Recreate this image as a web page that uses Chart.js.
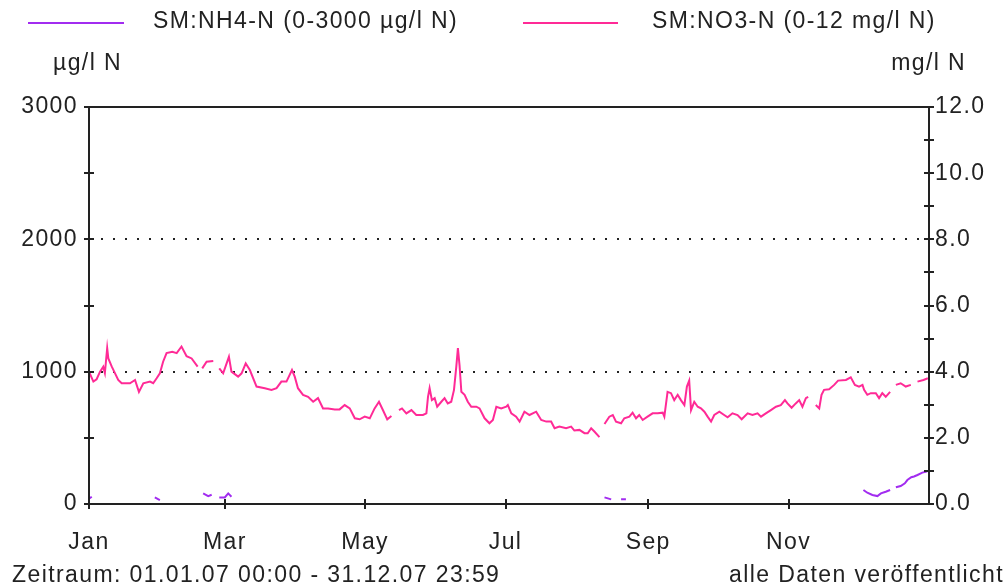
<!DOCTYPE html>
<html>
<head>
<meta charset="utf-8">
<script src="https://cdn.jsdelivr.net/npm/chart.js@4.4.0/dist/chart.umd.min.js"></script>
<style>
html, body { margin: 0; padding: 0; background: #fff; }
</style>
</head>
<body>
<canvas id="chart" width="1007" height="586"></canvas>
<script>
// x axis = day of year 2007
let monthTicks = [0, 59, 120, 181, 243, 304];
let monthLabels = ["Jan", "Mar", "May", "Jul", "Sep", "Nov"];

// SM:NO3-N, mg/l N (right axis), null = gap in record
let no3Days = [
    0, 1.9, 3.3, 4.8, 6.2, 6.9, 7.9, 8.4, 9.9, 12.7,
    14.2, 17.8, 20.0, 21.7, 23.6, 26.5, 27.9, 29.4, 30.8, 32.2,
    33.7, 36.2, 38.1, 40.2, 42.4, 44.6, 47.2, 48.2, 49.2, 51.1,
    54.0, 55.3, 56.6, 58.3, 59.8, 60.8, 61.9, 64.8, 66.3, 68.1,
    69.9, 72.8, 76.4, 79.3, 81.5, 83.6, 85.8, 88.2, 89.4, 90.8,
    93.0, 95.2, 97.4, 99.5, 101.7, 103.9, 106.8, 108.9, 111.1, 113.3,
    115.5, 117.6, 119.8, 122.0, 124.1, 126.0, 127.7, 129.6, 131.4, 133.0,
    134.7, 136.0, 137.9, 140.1, 142.2, 145.1, 146.6, 147.3, 148.0, 149.0,
    150.2, 151.3, 153.1, 154.5, 155.9, 157.4, 158.6, 159.6, 160.3, 161.0,
    161.8, 163.2, 164.6, 166.1, 168.3, 169.7, 171.9, 174.0, 175.5, 177.0,
    179.1, 181.3, 182.0, 183.5, 185.6, 187.1, 189.2, 191.4, 194.3, 196.5,
    198.7, 200.8, 202.3, 204.4, 207.3, 209.5, 210.9, 213.1, 215.3, 216.7,
    218.2, 219.6, 221.8, 223.0, 224.0, 226.1, 227.6, 229.0, 231.2, 232.6,
    234.8, 236.2, 237.7, 239.1, 240.6, 242.7, 244.9, 247.1, 249.3, 250.0,
    251.4, 252.9, 254.3, 255.8, 257.2, 258.7, 259.8, 260.8, 261.6, 263.0,
    264.5, 265.9, 267.4, 268.8, 270.3, 271.7, 273.9, 276.0, 277.5, 279.6,
    281.8, 283.6, 286.2, 288.3, 290.5, 292.0, 294.1, 296.3, 298.5, 300.6,
    302.4, 303.5, 305.3, 307.1, 308.6, 310.0, 311.5, 312.5, 314.0, 315.8,
    317.3, 318.3, 319.4, 321.6, 323.8, 325.5, 328.9, 331.0, 332.8, 334.6,
    336.1, 336.8, 338.2, 339.7, 341.9, 343.3, 344.7, 346.2, 348.1, 349.4,
    350.6, 352.7, 354.9, 357.1, 358.6, 360.0, 362.6, 364.5
];
let no3Values = [
    4.00, 3.70, 3.77, 4.00, 4.15, 3.96, 4.71, 4.40, 4.15, 3.75,
    3.65, 3.65, 3.75, 3.39, 3.65, 3.70, 3.65, 3.80, 3.95, 4.30,
    4.56, 4.60, 4.56, 4.76, 4.47, 4.40, 4.15, null, 4.10, 4.30,
    4.32, null, 4.10, 3.95, 4.25, 4.45, 4.00, 3.85, 3.95, 4.25,
    4.05, 3.55, 3.50, 3.45, 3.50, 3.70, 3.70, 4.05, 3.85, 3.50,
    3.30, 3.24, 3.09, 3.20, 2.89, 2.89, 2.86, 2.86, 2.99, 2.89,
    2.59, 2.56, 2.64, 2.59, 2.89, 3.09, 2.84, 2.56, 2.66, null,
    2.84, 2.89, 2.74, 2.84, 2.69, 2.69, 2.74, 3.24, 3.50, 3.14,
    3.20, 2.94, 3.09, 3.20, 3.04, 3.09, 3.45, 4.15, 4.71, 4.20,
    3.39, 3.30, 3.09, 2.94, 2.94, 2.89, 2.59, 2.44, 2.54, 2.94,
    2.89, 2.94, 2.99, 2.74, 2.64, 2.49, 2.79, 2.69, 2.79, 2.54,
    2.49, 2.49, 2.29, 2.34, 2.29, 2.34, 2.22, 2.24, 2.14, 2.14,
    2.29, 2.19, 2.02, null, 2.42, 2.64, 2.69, 2.49, 2.44, 2.59,
    2.64, 2.76, 2.59, 2.69, 2.54, 2.64, 2.74, 2.74, 2.76, 2.64,
    3.39, 3.35, 3.14, 3.30, 3.14, 2.99, 3.55, 3.73, 2.84, 3.09,
    2.94, 2.89, 2.79, 2.64, 2.49, 2.69, 2.79, 2.69, 2.62, 2.74,
    2.69, 2.56, 2.74, 2.69, 2.74, 2.64, 2.74, 2.84, 2.94, 2.99,
    3.14, 3.04, 2.91, 3.04, 3.14, 2.94, 3.20, 3.24, null, 2.99,
    2.89, 3.30, 3.45, 3.47, 3.60, 3.73, 3.75, 3.83, 3.60, 3.55,
    3.60, 3.45, 3.30, 3.35, 3.35, 3.20, 3.35, 3.24, 3.39, null,
    3.60, 3.65, 3.55, 3.60, null, 3.70, 3.75, 3.80
];

// SM:NH4-N, µg/l N (left axis)
let nh4Days = [
    0, 1.2, 1.5, 28.6, 30.8, 31.5, 49.6, 51.8, 53.3, 55.0,
    56.6, 59.0, 60.5, 61.9, 63.0, 224.0, 226.9, 228.5, 231.2, 233.3,
    234.5, 336.5, 338.2, 340.4, 342.6, 344.1, 346.2, 348.1, 349.4, 350.6,
    352.7, 354.5, 355.6, 357.3, 358.5, 360.0, 362.1, 363.6, 364.6
];
let nh4Values = [
    40, 55, null, 50, 30, null, 80, 60, 70, null,
    50, 50, 80, 55, null, 50, 35, null, 35, 35,
    null, 106, 85, 68, 60, 80, 93, 106, null, 126,
    136, 156, 181, 202, 208, 219, 237, 244, 250
];

const purple = "#a22cf0";
const pink = "#ff2a96";
const textColor = "#222";
const fontFamily = "'Liberation Sans', Arial, sans-serif";
const fontSize = 23;
const spacing = "1.4px";

function toPoints(days, values) {
    return days.map((d, i) => ({ x: d, y: values[i] }));
}

// frame, crossing tick marks and the texts round the plot
const decorations = {
    id: "decorations",
    beforeDraw(chart) {
        chart.ctx.letterSpacing = spacing;
    },
    afterDraw(chart) {
        let ctx = chart.ctx;
        let a = chart.chartArea;
        ctx.save();
        ctx.strokeStyle = textColor;
        ctx.lineWidth = 2;
        ctx.strokeRect(a.left, a.top, a.right - a.left, a.bottom - a.top);

        ctx.beginPath();
        chart.scales.yL.ticks.forEach(t => {
            let y = Math.round(chart.scales.yL.getPixelForValue(t.value));
            ctx.moveTo(a.left - 5, y);
            ctx.lineTo(a.left + 5, y);
        });
        chart.scales.yR.ticks.forEach(t => {
            let y = Math.round(chart.scales.yR.getPixelForValue(t.value));
            ctx.moveTo(a.right - 5, y);
            ctx.lineTo(a.right + 5, y);
        });
        chart.scales.x.ticks.forEach(t => {
            let x = Math.round(chart.scales.x.getPixelForValue(t.value));
            ctx.moveTo(x, a.bottom - 5);
            ctx.lineTo(x, a.bottom + 5);
        });
        ctx.stroke();

        // legend
        ctx.lineWidth = 2;
        ctx.strokeStyle = purple;
        ctx.beginPath();
        ctx.moveTo(28, 23);
        ctx.lineTo(124, 23);
        ctx.stroke();
        ctx.strokeStyle = pink;
        ctx.beginPath();
        ctx.moveTo(523, 23);
        ctx.lineTo(618, 23);
        ctx.stroke();

        ctx.letterSpacing = spacing;
        ctx.font = fontSize + "px " + fontFamily;
        ctx.fillStyle = textColor;
        ctx.textBaseline = "middle";
        ctx.textAlign = "left";
        ctx.fillText("SM:NH4-N (0-3000 µg/l N)", 153, 22);
        ctx.fillText("SM:NO3-N (0-12 mg/l N)", 652, 22);
        ctx.fillText("µg/l N", 53, 64);
        ctx.fillText("Zeitraum: 01.01.07 00:00 - 31.12.07 23:59", 12, 576);
        ctx.textAlign = "right";
        ctx.fillText("mg/l N", 966, 64);
        ctx.fillText("alle Daten veröffentlicht", 1004, 576);
        ctx.restore();
    }
};

new Chart(document.getElementById("chart"), {
    type: "line",
    data: {
        datasets: [
            {
                label: "SM:NH4-N (0-3000 µg/l N)",
                data: toPoints(nh4Days, nh4Values),
                yAxisID: "yL",
                borderColor: purple,
                borderWidth: 2,
                pointRadius: 0,
                spanGaps: false,
                tension: 0
            },
            {
                label: "SM:NO3-N (0-12 mg/l N)",
                data: toPoints(no3Days, no3Values),
                yAxisID: "yR",
                borderColor: pink,
                borderWidth: 2,
                pointRadius: 0,
                spanGaps: false,
                tension: 0
            }
        ]
    },
    options: {
        responsive: false,
        animation: false,
        layout: { padding: { top: 107, left: 0, right: 0, bottom: 0 } },
        plugins: {
            legend: { display: false },
            tooltip: { enabled: false }
        },
        scales: {
            x: {
                type: "linear",
                min: 0,
                max: 365,
                afterBuildTicks: s => { s.ticks = monthTicks.map(v => ({ value: v })); },
                afterFit: s => { s.height = 82; },
                grid: { display: false, drawTicks: false },
                border: { display: false },
                ticks: {
                    autoSkip: false,
                    maxRotation: 0,
                    padding: 25,
                    color: textColor,
                    font: { family: fontFamily, size: fontSize },
                    callback: v => monthLabels[monthTicks.indexOf(v)]
                }
            },
            yL: {
                position: "left",
                min: 0,
                max: 3000,
                afterFit: s => { s.width = 89; },
                grid: {
                    drawTicks: false,
                    lineWidth: 2,
                    color: c => (c.tick && (c.tick.value === 1000 || c.tick.value === 2000)) ? textColor : "rgba(0,0,0,0)"
                },
                border: { display: false, dash: [2, 10] },
                ticks: {
                    stepSize: 500,
                    autoSkip: false,
                    padding: 11,
                    color: textColor,
                    font: { family: fontFamily, size: fontSize },
                    callback: v => v % 1000 === 0 ? String(v) : ""
                }
            },
            yR: {
                position: "right",
                min: 0,
                max: 12,
                afterFit: s => { s.width = 78; },
                grid: { display: false, drawTicks: false },
                border: { display: false },
                ticks: {
                    stepSize: 1,
                    autoSkip: false,
                    padding: 6,
                    color: textColor,
                    font: { family: fontFamily, size: fontSize },
                    callback: v => v % 2 === 0 ? v.toFixed(1) : ""
                }
            }
        }
    },
    plugins: [decorations]
});
</script>
</body>
</html>
